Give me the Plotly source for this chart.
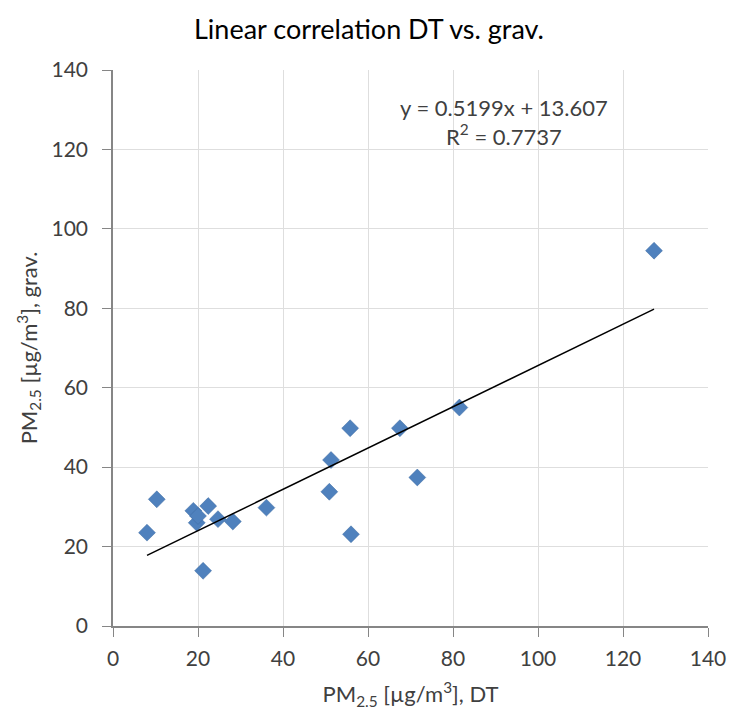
import plotly.graph_objects as go

# Data
pm_dt = [8.0, 10.3, 18.9, 19.7, 20.0, 22.4, 24.7, 28.2, 36.1, 21.2,
         50.9, 51.3, 56.0, 55.8, 67.5, 71.6, 81.5, 127.3]
pm_grav = [23.5, 31.9, 29.0, 26.0, 27.7, 30.2, 26.9, 26.3, 29.8, 13.9,
           33.8, 41.8, 23.1, 49.8, 49.8, 37.4, 55.0, 94.5]

slope = 0.5199
intercept = 13.607
r2 = 0.7737

tick_vals = [0, 20, 40, 60, 80, 100, 120, 140]

x_line = [min(pm_dt), max(pm_dt)]
y_line = [slope * v + intercept for v in x_line]

font_family = "Lato, 'Open Sans', sans-serif"

fig = go.Figure()
fig.add_trace(go.Scatter(
    x=pm_dt, y=pm_grav, mode="markers",
    marker=dict(symbol="diamond", size=13, color="#4F81BD",
                line=dict(width=0.5, color="#3c6aa0")),
    showlegend=False, hoverinfo="x+y"))
fig.add_trace(go.Scatter(
    x=x_line, y=y_line, mode="lines",
    line=dict(color="black", width=1.5),
    showlegend=False, hoverinfo="skip"))

axis_common = dict(
    range=[0, 140], tickvals=tick_vals, showgrid=True,
    gridcolor="#dedede", gridwidth=1,
    showline=True, linecolor="#868686", linewidth=1.5,
    ticks="outside", ticklen=9, tickcolor="#868686",
    tickfont=dict(size=21, color="#404040", family=font_family),
    zeroline=False, fixedrange=True,
)

fig.update_xaxes(**axis_common, ticklabelstandoff=4,
                 title=dict(text="PM<sub>2.5</sub> [µg/m<sup>3</sup>], DT",
                            font=dict(size=22, color="#404040", family=font_family),
                            standoff=18))
fig.update_yaxes(**axis_common, ticklabelstandoff=10,
                 title=dict(text="PM<sub>2.5</sub> [µg/m<sup>3</sup>], grav.",
                            font=dict(size=22, color="#404040", family=font_family),
                            standoff=8))

fig.add_annotation(
    x=92, y=127, xref="x", yref="y", showarrow=False,
    text=f"y = {slope}x + {intercept}<br>R<sup>2</sup> = {r2}",
    font=dict(size=22, color="#404040", family=font_family), align="center")

fig.update_layout(
    width=738, height=715,
    margin=dict(l=113, r=27, t=70, b=89),
    paper_bgcolor="white", plot_bgcolor="white",
    title=dict(text="Linear correlation DT vs. grav.", x=0.5, xanchor="center",
               y=0.958, yanchor="middle",
               font=dict(size=27, color="#000000", family=font_family)),
    font=dict(family=font_family),
)

fig.write_html("out.html")
